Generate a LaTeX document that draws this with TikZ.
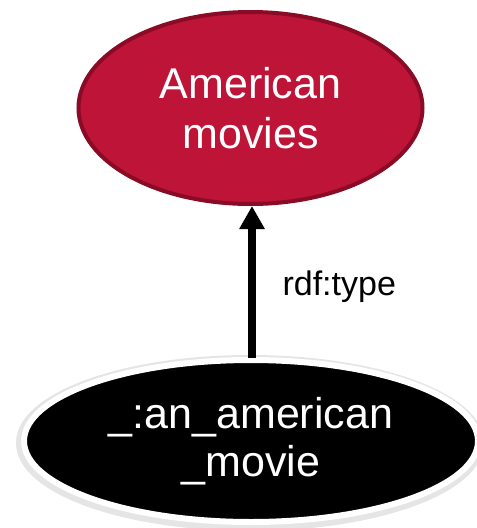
\documentclass[tikz,border=0pt]{standalone}
\usepackage{fontspec}
\setmainfont{Liberation Sans}
\usetikzlibrary{shapes.geometric,arrows.meta}
\definecolor{crimson}{HTML}{BE1438}
\definecolor{crimsonedge}{HTML}{8A0B25}
\tikzset{
  classnode/.style={ellipse, fill=crimson, draw=crimsonedge, line width=4pt,
    minimum width=344pt, minimum height=192pt, inner sep=0pt, text=white,
    align=center, font=\fontsize{43}{50}\selectfont},
  instnode/.style={ellipse, fill=black, draw=white, line width=6pt,
    minimum width=454pt, minimum height=162pt, inner sep=0pt, text=white,
    align=center, font=\fontsize{43}{48}\selectfont},
  shadowring/.style={ellipse, draw=black!10, line width=8pt,
    minimum width=460pt, minimum height=168pt, inner sep=0pt},
  typearrow/.style={line width=8pt, -{Triangle[length=23pt,width=24pt]}},
  edgelabel/.style={font=\fontsize{34}{40}\selectfont, text=black}
}
\begin{document}
\begin{tikzpicture}[x=1pt,y=-1pt]
  \useasboundingbox (0,0) rectangle (477,528);
  \node[classnode] (cls) at (250.5,108) {American\\movies};
  \node[shadowring] (ring) at (250,443) {};
  \node[instnode] (inst) at (251,441) {\_:an\_american\\\_movie};
  \coordinate (tail) at (252,358);
  \draw[typearrow] (tail) -- (cls.south -| tail);
  \node[edgelabel, anchor=base west] (lbl) at (279,295) {rdf:type};
\end{tikzpicture}
\end{document}
